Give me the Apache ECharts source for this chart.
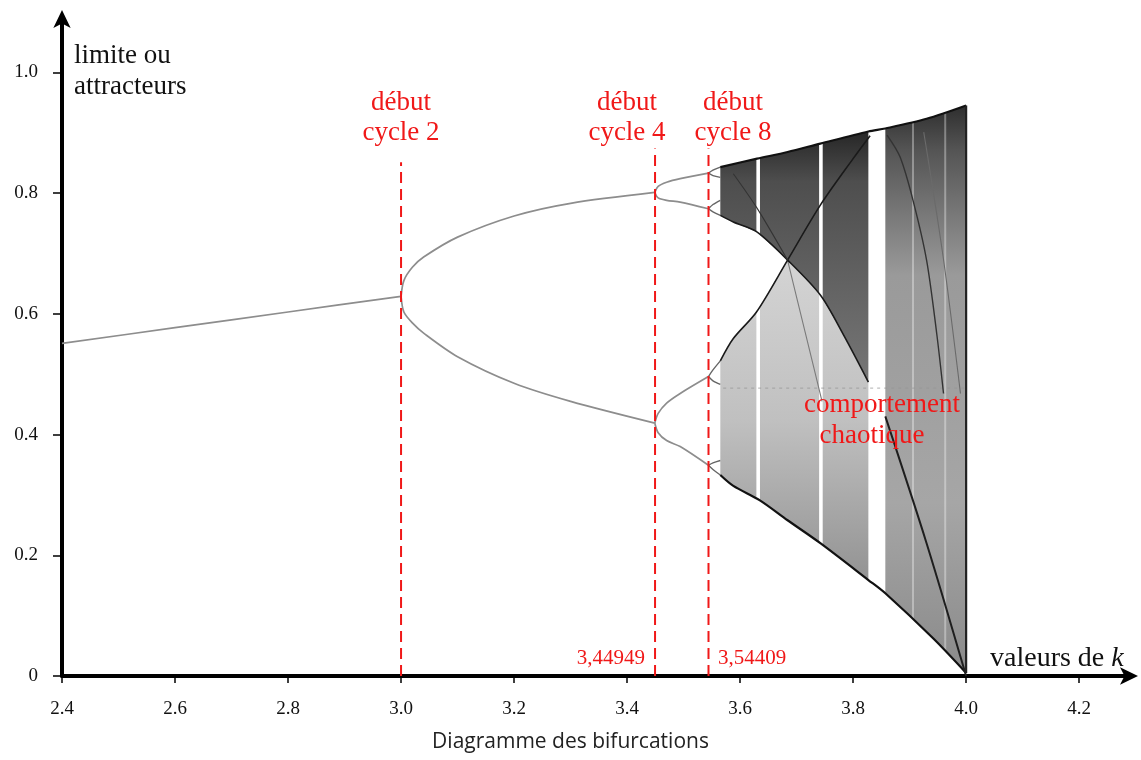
<!DOCTYPE html>
<html>
<head>
<meta charset="utf-8">
<title>Diagramme des bifurcations</title>
<script src="https://cdn.jsdelivr.net/npm/echarts@6/dist/echarts.min.js"></script>
<style>
  html, body { margin: 0; padding: 0; background: #fff; }
  #chart { width: 1141px; height: 760px; }
</style>
</head>
<body>
<div id="chart"></div>
<script>
// graduations
const xTicks = [2.4, 2.6, 2.8, 3.0, 3.2, 3.4, 3.6, 3.8, 4.0, 4.2];
const xTickLabels = ['2.4', '2.6', '2.8', '3.0', '3.2', '3.4', '3.6', '3.8', '4.0', '4.2'];
const yTicks = [0, 0.2, 0.4, 0.6, 0.8, 1.0];
const yTickLabels = ['0', '0.2', '0.4', '0.6', '0.8', '1.0'];

// point fixe (cycle 1)
const fixK = [2.4, 2.6, 2.8, 3.0];
const fixV = [0.551, 0.577, 0.603, 0.629];

// cycle 2
const c2K = [3.0, 3.005, 3.02, 3.04, 3.1, 3.2, 3.3, 3.449];
const c2Up = [0.629, 0.655, 0.677, 0.694, 0.727, 0.762, 0.783, 0.801];
const c2Lo = [0.629, 0.603, 0.585, 0.568, 0.529, 0.485, 0.455, 0.419];

// cycle 4
const c4K = [3.449, 3.455, 3.47, 3.494, 3.544];
const c4A = [0.801, 0.811, 0.818, 0.824, 0.833];
const c4B = [0.801, 0.792, 0.788, 0.785, 0.774];
const c4C = [0.419, 0.435, 0.452, 0.468, 0.496];
const c4D = [0.419, 0.403, 0.390, 0.380, 0.349];

// cycle 8 (petites boucles avant le chaos)
const c8K = [3.544, 3.552, 3.565];
const c8Aup = [0.833, 0.838, 0.843];
const c8Adn = [0.833, 0.829, 0.826];
const c8Bup = [0.774, 0.781, 0.788];
const c8Bdn = [0.774, 0.769, 0.763];
const c8Cup = [0.496, 0.507, 0.522];
const c8Cdn = [0.496, 0.489, 0.483];
const c8Dup = [0.349, 0.353, 0.357];
const c8Ddn = [0.349, 0.342, 0.333];

// zone chaotique : bords et courbes sombres
const upK = [3.565, 3.63, 3.684, 3.742, 3.827, 3.857, 3.93, 4.0];
const upV = [0.843, 0.857, 0.868, 0.882, 0.902, 0.907, 0.923, 0.945];
const loK = [3.565, 3.588, 3.635, 3.684, 3.742, 3.827, 3.857, 3.942, 4.0];
const loV = [0.333, 0.315, 0.291, 0.258, 0.220, 0.159, 0.137, 0.062, 0.005];
const cK = [3.565, 3.588, 3.629, 3.684, 3.742, 3.783, 3.827];
const cV = [0.763, 0.752, 0.736, 0.689, 0.631, 0.565, 0.487];
const eK = [3.565, 3.588, 3.629, 3.684, 3.742, 3.80, 3.83];
const eV = [0.522, 0.559, 0.603, 0.689, 0.780, 0.857, 0.895];
const gK = [3.588, 3.63, 3.684];
const gV = [0.832, 0.775, 0.689];
const iK = [3.684, 3.715, 3.745];
const iV = [0.689, 0.570, 0.455];
const dK = [3.857, 3.93, 4.0];
const dV = [0.430, 0.220, 0.0];
const fK = [3.86, 3.883, 3.906, 3.93, 3.948, 3.96];
const fV = [0.896, 0.860, 0.788, 0.689, 0.567, 0.468];
const hK = [3.925, 3.96, 3.99];
const hV = [0.901, 0.690, 0.468];
const edgeK = [4.0, 4.0];
const edgeV = [0.005, 0.945];
const dotK = [3.57, 4.0];
const dotV = [0.477, 0.477];

// fenetres periodiques
const whiteWinK = [3.632, 3.743];
const lightWinK = [3.906, 3.963];

// bifurcations
const bifK = [3.0, 3.44949, 3.54409];
const bifTop = [0.851, 0.874, 0.874];

const pairs = (ks, vs) => ks.map((k, i) => [k, vs[i]]);
const slice = (ks, vs, a, b) => pairs(ks, vs).filter(p => p[0] >= a - 1e-9 && p[0] <= b + 1e-9);

// polygones de densite
const polys = [
  slice(upK, upV, 3.565, 3.827).concat(slice(cK, cV, 3.565, 3.827).reverse()),
  slice(eK, eV, 3.565, 3.684).concat(slice(cK, cV, 3.7, 3.827), slice(loK, loV, 3.565, 3.827).reverse()),
  slice(upK, upV, 3.857, 4.0).concat(slice(loK, loV, 3.857, 4.0).reverse())
];
const grad = (stops) => new echarts.graphic.LinearGradient(0, 0, 0, 1,
  stops.map(s => ({ offset: s[0], color: s[1] })));
const polyFills = [
  grad([[0, '#262626'], [0.2, '#4e4e4e'], [1, '#767676']]),
  grad([[0, '#d4d4d4'], [0.5, '#c0c0c0'], [1, '#939393']]),
  grad([[0, '#2e2e2e'], [0.08, '#555'], [0.3, '#9a9a9a'], [0.7, '#a6a6a6'], [1, '#8a8a8a']])
];

const serif = "'Liberation Serif', 'DejaVu Serif', serif";
const red = '#f01818';

function line(ks, vs, color, width, extra) {
  return Object.assign({
    type: 'line', data: pairs(ks, vs), symbol: 'none', smooth: 0.3,
    lineStyle: { color: color, width: width }, z: 3, silent: true
  }, extra || {});
}

const series = [
  {
    type: 'custom', z: 1, silent: true,
    data: polys.map(p => p[0]),
    renderItem: function (params, api) {
      const pts = polys[params.dataIndex].map(p => api.coord(p));
      return { type: 'polygon', shape: { points: pts }, style: { fill: polyFills[params.dataIndex] } };
    }
  },
  {
    type: 'custom', z: 2, silent: true,
    data: whiteWinK.map(k => [k, 0.02]).concat(lightWinK.map(k => [k, 0.02])),
    renderItem: function (params, api) {
      const top = api.coord([api.value(0), 0.97]);
      const bot = api.coord([api.value(0), api.value(1)]);
      const light = params.dataIndex >= whiteWinK.length;
      return {
        type: 'rect',
        shape: { x: top[0] - (light ? 1 : 1.8), y: top[1], width: light ? 2 : 3.6, height: bot[1] - top[1] },
        style: { fill: light ? 'rgba(255,255,255,0.35)' : '#fff' }
      };
    }
  },
  line(fixK, fixV, '#8d8d8d', 1.7),
  line(c2K, c2Up, '#8d8d8d', 1.7),
  line(c2K, c2Lo, '#8d8d8d', 1.7),
  line(c4K, c4A, '#8d8d8d', 1.7),
  line(c4K, c4B, '#8d8d8d', 1.7),
  line(c4K, c4C, '#8d8d8d', 1.7),
  line(c4K, c4D, '#8d8d8d', 1.7),
  line(c8K, c8Aup, '#666', 1.4),
  line(c8K, c8Adn, '#666', 1.4),
  line(c8K, c8Bup, '#666', 1.4),
  line(c8K, c8Bdn, '#666', 1.4),
  line(c8K, c8Cup, '#666', 1.4),
  line(c8K, c8Cdn, '#666', 1.4),
  line(c8K, c8Dup, '#666', 1.4),
  line(c8K, c8Ddn, '#666', 1.4),
  line(dotK, dotV, 'rgba(150,150,150,0.6)', 1.2, { smooth: false, lineStyle: { color: 'rgba(150,150,150,0.6)', width: 1.2, type: [3, 4] } }),
  line(iK, iV, '#7a7a7a', 1.1),
  line(hK, hV, '#6a6a6a', 1.1),
  line(upK, upV, '#111', 2.2),
  line(loK, loV, '#111', 2.2),
  line(cK, cV, '#1a1a1a', 1.6),
  line(eK, eV, '#1a1a1a', 1.6),
  line(gK, gV, '#333', 1.1),
  line(dK, dV, '#1e1e1e', 2),
  line(fK, fV, '#333', 1.4),
  line(edgeK, edgeV, '#222', 2.2, { smooth: false })
];

bifK.forEach((k, i) => {
  series.push({
    type: 'line', data: [[k, 0], [k, bifTop[i]]], symbol: 'none', z: 5, silent: true,
    lineStyle: { color: red, width: 2, type: [11, 6] }
  });
});

function txt(x, y, text, size, color, align) {
  return {
    type: 'text', x: x, y: y, z: 100,
    style: { text: text, font: size + 'px ' + serif, fill: color, align: align || 'left', verticalAlign: 'middle' }
  };
}

const chart = echarts.init(document.getElementById('chart'));
chart.setOption({
  animation: false,
  backgroundColor: '#fff',
  title: {
    text: 'Diagramme des bifurcations', left: 'center', bottom: 2,
    textStyle: { fontFamily: "'Open Sans', sans-serif", fontSize: 21, fontWeight: 'normal', color: '#222' }
  },
  grid: { left: 62, right: 11, top: 18, bottom: 84, containLabel: false, outerBoundsMode: 'none' },
  xAxis: {
    type: 'value', min: 2.4, max: 4.29, interval: 0.2,
    axisLine: { show: true, onZero: false, symbol: ['none', 'arrow'], symbolSize: [13, 18], symbolOffset: [0, 8], lineStyle: { color: '#000', width: 4 } },
    axisTick: { show: true, customValues: xTicks, length: 7, lineStyle: { color: '#000', width: 1.5 } },
    axisLabel: {
      customValues: xTicks, margin: 24, color: '#111', fontFamily: serif, fontSize: 19,
      formatter: v => xTickLabels[xTicks.findIndex(t => Math.abs(t - v) < 1e-6)]
    },
    splitLine: { show: false }
  },
  yAxis: {
    type: 'value', min: 0, max: 1.09, interval: 0.2,
    axisLine: { show: true, onZero: false, symbol: ['none', 'arrow'], symbolSize: [13, 18], symbolOffset: [0, 8], lineStyle: { color: '#000', width: 4 } },
    axisTick: { show: true, customValues: yTicks, length: 9, lineStyle: { color: '#000', width: 1.5 } },
    axisLabel: {
      customValues: yTicks, margin: 24, color: '#111', fontFamily: serif, fontSize: 19,
      formatter: v => yTickLabels[yTicks.findIndex(t => Math.abs(t - v) < 1e-6)]
    },
    splitLine: { show: false }
  },
  graphic: [
    txt(74, 56, 'limite ou', 27, '#111'),
    txt(74, 87, 'attracteurs', 27, '#111'),
    {
      type: 'text', x: 990, y: 659, z: 100,
      style: {
        text: 'valeurs de {k|k}', font: '28px ' + serif, fill: '#111', verticalAlign: 'middle',
        rich: { k: { fontStyle: 'italic', fontFamily: serif, fontSize: 28, fill: '#111' } }
      }
    },
    txt(401, 103, 'début', 27, red, 'center'),
    txt(401, 133, 'cycle 2', 27, red, 'center'),
    txt(627, 103, 'début', 27, red, 'center'),
    txt(627, 133, 'cycle 4', 27, red, 'center'),
    txt(733, 103, 'début', 27, red, 'center'),
    txt(733, 133, 'cycle 8', 27, red, 'center'),
    txt(882, 405, 'comportement', 27, red, 'center'),
    txt(872, 436, 'chaotique', 27, red, 'center'),
    txt(645, 658, '3,44949', 21, red, 'right'),
    txt(718, 658, '3,54409', 21, red, 'left')
  ],
  series: series
});
</script>
</body>
</html>
